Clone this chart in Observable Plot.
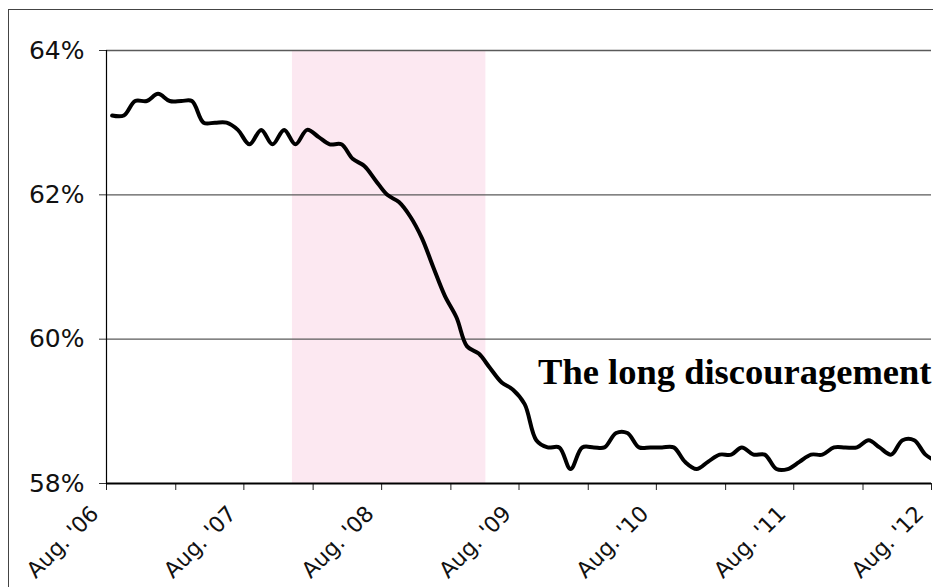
<!DOCTYPE html>
<html>
<head>
<meta charset="utf-8">
<script src="https://cdn.jsdelivr.net/npm/d3@7"></script>
<script src="https://cdn.jsdelivr.net/npm/@observablehq/plot@0.6"></script>
<style>
  html, body { margin: 0; padding: 0; background: #fff; overflow: hidden; }
  #wrap { position: relative; width: 933px; height: 587px; }
  #frame { position: absolute; left: 8px; top: 9px; width: 2000px; height: 2000px;
           border: 1.5px solid #444; pointer-events: none; z-index: 2; }
</style>
</head>
<body>
<div id="wrap"><div id="frame"></div></div>
<script>
// Monthly series, Aug 2006 onward (percent)
const startYear = 2006, startMonth = 7; // August (0-based)
const values = [
  63.1, 63.1, 63.3, 63.3, 63.4, 63.3, 63.3, 63.3, 63.0, 63.0, 63.0, 62.9,
  62.7, 62.9, 62.7, 62.9, 62.7, 62.9, 62.8, 62.7, 62.7, 62.5, 62.4, 62.2,
  62.0, 61.9, 61.7, 61.4, 61.0, 60.6, 60.3, 59.9, 59.8, 59.6, 59.4, 59.3,
  59.1, 58.6, 58.5, 58.5, 58.2, 58.5, 58.5, 58.5, 58.7, 58.7, 58.5, 58.5,
  58.5, 58.5, 58.3, 58.2, 58.3, 58.4, 58.4, 58.5, 58.4, 58.4, 58.2, 58.2,
  58.3, 58.4, 58.4, 58.5, 58.5, 58.5, 58.6, 58.5, 58.4, 58.6, 58.6, 58.4,
  58.3
];
const recession = ["2007-12-08", "2009-05-05"];
const xDomain = ["2006-08-01", "2012-08-01"];
const tickStepMonths = 6;
const yTicks = [58, 60, 62, 64];
const gridValues = [60, 62, 64];
const annotation = "The long discouragement";
const annotationY = 59.375;

const data = values.map((v, i) => ({date: new Date(Date.UTC(startYear, startMonth + i, 16)), value: v}));
const x0 = new Date(xDomain[0]), x1 = new Date(xDomain[1]);
const xTicks = [];
for (let d = x0; d <= x1; d = d3.utcMonth.offset(d, tickStepMonths)) xTicks.push(d);
const labelTicks = xTicks.filter(d => d.getUTCMonth() === 7);
const fmt = d => "Aug. '" + String(d.getUTCFullYear()).slice(2);

const chart = Plot.plot({
  width: 933,
  height: 587,
  marginLeft: 106,
  marginRight: 2,
  marginTop: 50,
  marginBottom: 104,
  style: {fontFamily: "'DejaVu Sans', Verdana, sans-serif", fontSize: "24px", background: "transparent", overflow: "visible"},
  x: {type: "utc", domain: [x0, x1], axis: null},
  y: {domain: [58, 64], axis: null},
  marks: [
    Plot.rectX([{a: new Date(recession[0]), b: new Date(recession[1])}], {x1: "a", x2: "b", fill: "#fce8f1"}),
    Plot.ruleY(gridValues, {stroke: "#5a5a5a", strokeWidth: 1.3}),
    Plot.axisY({ticks: yTicks, tickSize: 7, tickPadding: 15, tickFormat: d => d + "%", label: null, fontSize: 25, stroke: "#333", fill: "#111"}),
    Plot.axisX({ticks: xTicks, tickSize: 7, tickFormat: () => "", label: null, stroke: "#222"}),
    Plot.text(labelTicks, {x: d => d, text: fmt, frameAnchor: "bottom", rotate: -45, textAnchor: "end", lineAnchor: "bottom", dx: -6.5, dy: 31.5, fontSize: 22, fill: "#111"}),
    Plot.ruleX([x0], {stroke: "#000", strokeWidth: 1.2}),
    Plot.ruleY([58], {stroke: "#000", strokeWidth: 1.8}),
    Plot.line(data, {x: "date", y: "value", curve: "catmull-rom", stroke: "#000", strokeWidth: 4, strokeLinejoin: "round", clip: true}),
    Plot.text([annotation], {x: x1, y: annotationY, text: d => d, textAnchor: "end", lineAnchor: "bottom", fontFamily: "'Liberation Serif', 'Times New Roman', serif", fontWeight: "bold", fontSize: 36.5, fill: "#000"})
  ]
});
document.getElementById("wrap").appendChild(chart);
</script>
</body>
</html>
